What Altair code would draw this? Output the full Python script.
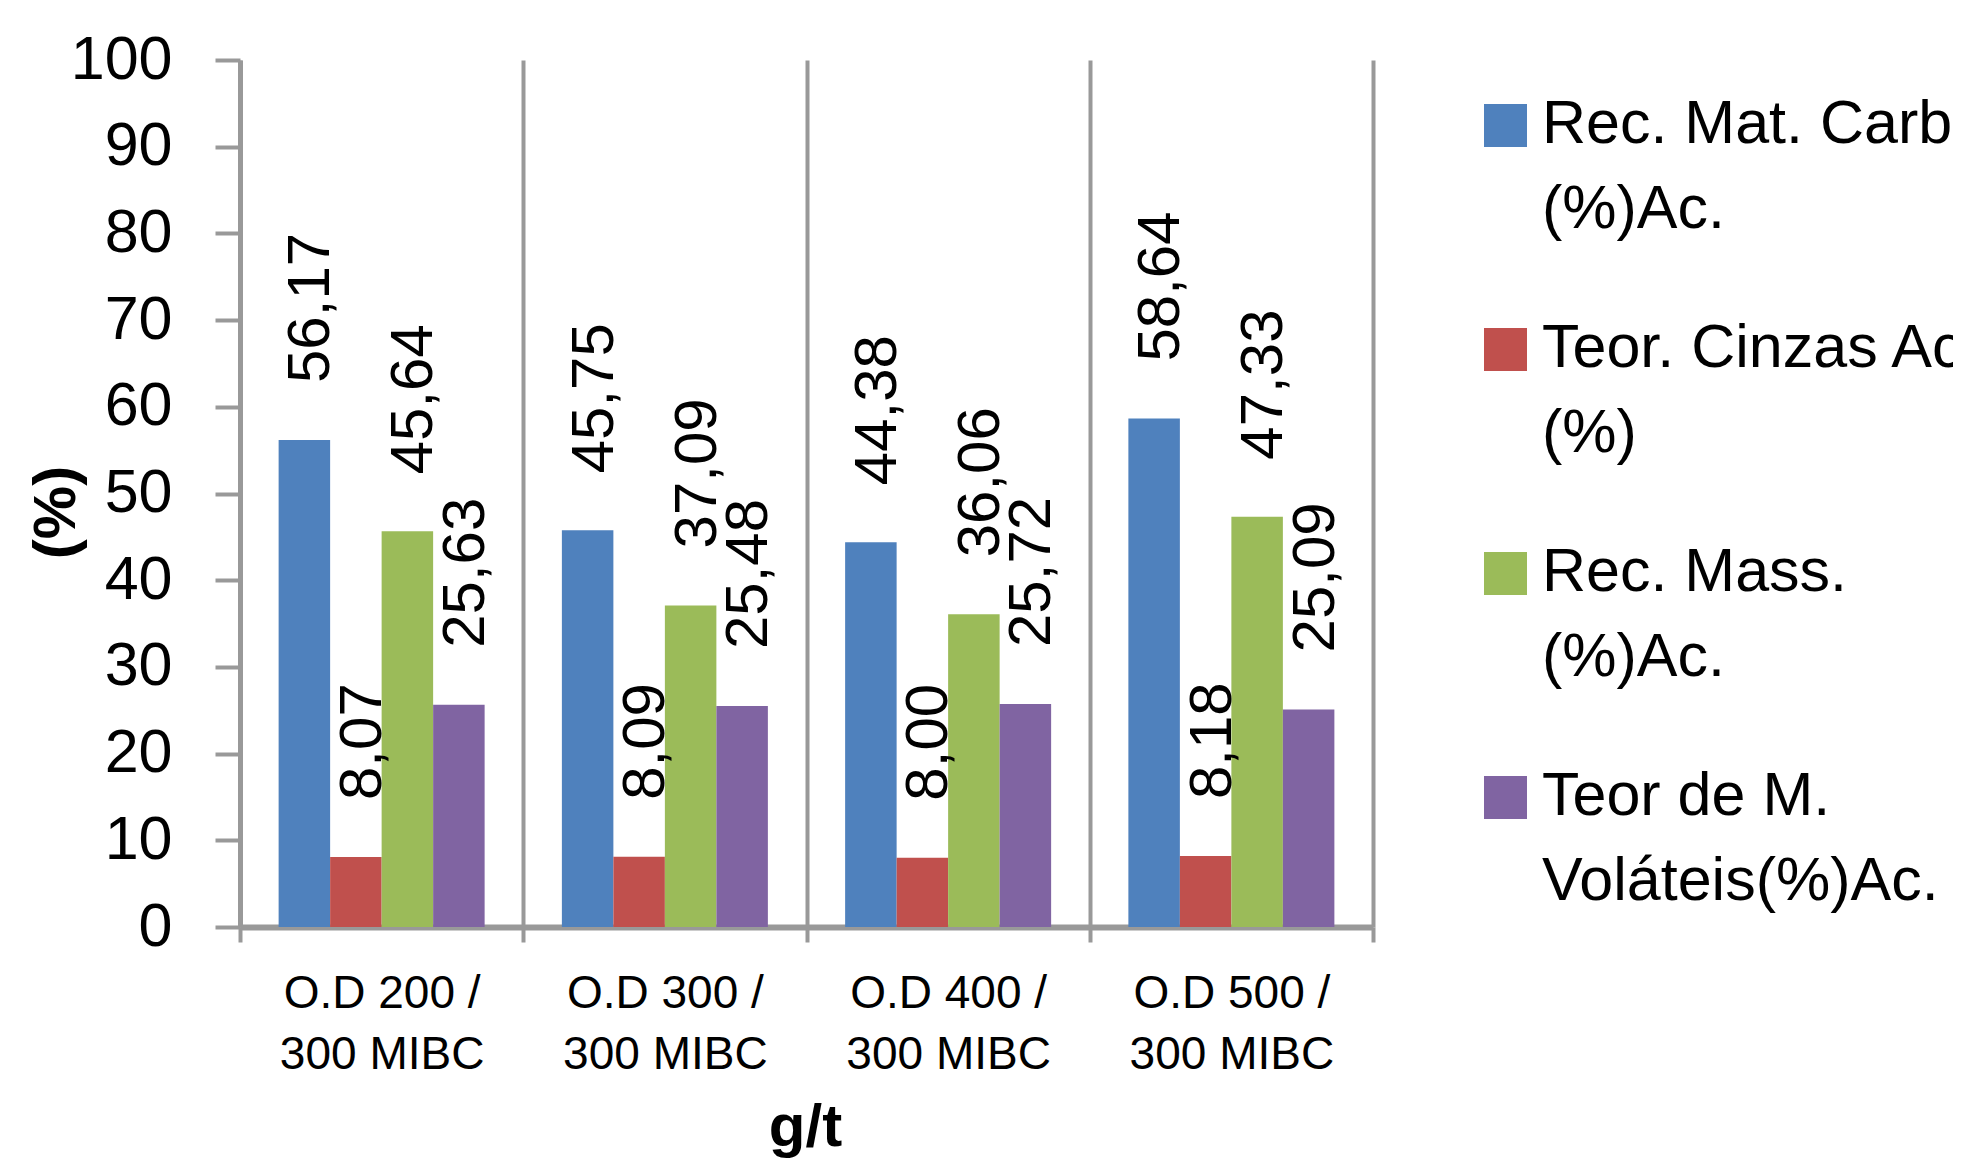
import altair as alt
import pandas as pd

CATEGORIES = ["O.D 200 / 300 MIBC", "O.D 300 / 300 MIBC", "O.D 400 / 300 MIBC", "O.D 500 / 300 MIBC"]
SERIES = ["Rec. Mat. Carb (%)Ac.", "Teor. Cinzas Ac (%)", "Rec. Mass. (%)Ac.", "Teor de M. Voláteis(%)Ac."]
LEGEND_LINES = [["Rec. Mat. Carb", "(%)Ac."], ["Teor. Cinzas Ac", "(%)"], ["Rec. Mass.", "(%)Ac."], ["Teor de M.", "Voláteis(%)Ac."]]
COLORS = ["#4F81BD", "#C0504D", "#9BBB59", "#8064A2"]

REC_MAT_CARB = [56.17, 45.75, 44.38, 58.64]
TEOR_CINZAS = [8.07, 8.09, 8.00, 8.18]
REC_MASS = [45.64, 37.09, 36.06, 47.33]
TEOR_VOLATEIS = [25.63, 25.48, 25.72, 25.09]

VALUES = [REC_MAT_CARB, TEOR_CINZAS, REC_MASS, TEOR_VOLATEIS]

rows = []
for s, vals in zip(SERIES, VALUES):
    for c, v in zip(CATEGORIES, vals):
        rows.append({"cat": c, "series": s, "value": v, "label": f"{v:.2f}".replace(".", ",")})
df = pd.DataFrame(rows)

FONT = "Liberation Sans"
GREY = "#999999"
LABEL_DY = -31  # vertical shift applied to guide labels via style (compensated on axes)

# legend label expression: split names into two lines
expr = "datum.label"
for name, lines in reversed(list(zip(SERIES, LEGEND_LINES))):
    expr = f"datum.label == '{name}' ? ['{lines[0]}', '{lines[1]}'] : ({expr})"

x_enc = alt.X(
    "cat:N",
    sort=CATEGORIES,
    scale=alt.Scale(paddingInner=0, paddingOuter=0),
    axis=alt.Axis(
        title="g/t",
        titleFont=FONT, titleFontSize=60, titleFontWeight="bold", titleColor="black",
        titleX=565, titleY=218, titleAlign="center", titleBaseline="alphabetic",
        labelExpr="indexof(datum.label, '/ ') < 0 ? '' : [split(datum.label, '/ ')[0] + '/', split(datum.label, '/ ')[1]]",
        labelFont=FONT, labelFontSize=46, labelLineHeight=61, labelColor="black",
        labelAngle=0, labelBaseline="top", labelPadding=29 - LABEL_DY, labelLimit=1000,
        tickBand="extent", tickSize=15, tickColor=GREY, tickWidth=4,
        domainColor=GREY, domainWidth=6,
        grid=True, gridColor=GREY, gridWidth=4,
    ),
)

y_enc = alt.Y(
    "value:Q",
    scale=alt.Scale(domain=[0, 100], nice=False),
    axis=alt.Axis(
        values=list(range(0, 101, 10)),
        title="(%)",
        titleFont=FONT, titleFontSize=60, titleFontWeight="bold", titleColor="black",
        titleAngle=270, titleX=-184, titleY=452, titleAlign="center", titleBaseline="middle",
        labelFont=FONT, labelFontSize=61, labelColor="black", labelPadding=43,
        labelOffset=-LABEL_DY,
        tickSize=25, tickColor=GREY, tickWidth=4,
        domainColor=GREY, domainWidth=5,
        grid=False,
    ),
)

bars = alt.Chart(df).mark_bar().encode(
    x=x_enc,
    xOffset=alt.XOffset("series:N", sort=SERIES, scale=alt.Scale(paddingInner=0, paddingOuter=0.75)),
    y=y_enc,
    color=alt.Color(
        "series:N",
        sort=SERIES,
        scale=alt.Scale(domain=SERIES, range=COLORS),
        legend=alt.Legend(
            title=None, orient="none", legendX=1235, legendY=35, padding=0,
            symbolType="square", symbolSize=1849, symbolStrokeWidth=0, symbolOpacity=1,
            labelFont=FONT, labelFontSize=61, labelColor="black", labelOffset=6,
            labelLimit=1000, labelBaseline="top", rowPadding=77,
            labelExpr=expr,
        ),
    ),
)

texts = alt.Chart(df).mark_text(
    angle=270, align="left", baseline="middle", dx=57, dy=7,
    font=FONT, fontSize=60, color="black",
).encode(
    x=alt.X("cat:N", sort=CATEGORIES),
    xOffset=alt.XOffset("series:N", sort=SERIES),
    y=alt.Y("value:Q"),
    text="label:N",
)

chart = alt.layer(bars, texts).properties(
    width=1133, height=867,
    autosize=alt.AutoSizeParams(type="none"),
    padding={"left": 232, "top": 52, "right": 580, "bottom": 232},
    background="white",
).configure(
    style={"guide-label": {"lineHeight": 85, "dy": LABEL_DY}}
).configure_view(stroke=None)

chart.save("out.html", embed_options={"renderer": "svg", "actions": False})
